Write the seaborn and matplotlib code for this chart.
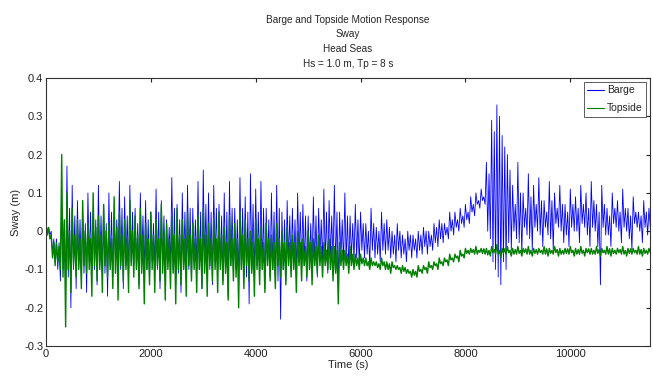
import numpy as np
import pandas as pd
import seaborn as sns
import matplotlib
matplotlib.use("Agg")
import matplotlib.pyplot as plt

# values, per 100 s: outer peak, inner trough,
# inner peak, outer trough (outer = spikes, inner = dense band)
step = 100
barge_hi = [
    0.02, 0.0, -0.02, 0.05, 0.17, 0.12, 0.08, 0.05, 0.1, 0.06,
    0.12, 0.07, 0.1, 0.05, 0.13, 0.09, 0.12, 0.06, 0.1, 0.08,
    0.05, 0.11, 0.08, 0.03, 0.14, 0.07, 0.1, 0.12, 0.06, 0.13,
    0.16, 0.1, 0.12, 0.07, 0.1, 0.13, 0.06, 0.14, 0.09, 0.15,
    0.11, 0.13, 0.06, 0.1, 0.12, 0.05, 0.08, 0.06, 0.1, 0.07,
    0.04, 0.09, 0.06, 0.11, 0.08, 0.12, 0.05, 0.1, 0.04, 0.07,
    0.05, 0.02, 0.06, 0.01, 0.05, 0.03, 0.0, 0.02, -0.01, 0.0,
    -0.01, 0.0, 0.01, 0.0, 0.02, 0.03, 0.02, 0.05, 0.05, 0.06,
    0.07, 0.09, 0.1, 0.11, 0.18, 0.29, 0.33, 0.25, 0.2, 0.12,
    0.18, 0.1, 0.15, 0.12, 0.14, 0.08, 0.13, 0.1, 0.12, 0.07,
    0.11, 0.09, 0.12, 0.1, 0.13, 0.07, 0.12, 0.06, 0.1, 0.08,
    0.11, 0.06, 0.09, 0.05, 0.08, 0.06,
]
barge_core_lo = [
    0.0, -0.06, -0.1, -0.1, -0.12, -0.1, -0.09, -0.11, -0.08, -0.1,
    -0.09, -0.11, -0.09, -0.08, -0.1, -0.09, -0.08, -0.1, -0.09, -0.1,
    -0.08, -0.1, -0.09, -0.08, -0.1, -0.11, -0.09, -0.1, -0.08, -0.1,
    -0.09, -0.1, -0.08, -0.09, -0.11, -0.09, -0.1, -0.09, -0.12, -0.1,
    -0.09, -0.1, -0.09, -0.1, -0.13, -0.1, -0.08, -0.09, -0.08, -0.09,
    -0.08, -0.09, -0.07, -0.08, -0.07, -0.09, -0.07, -0.08, -0.07, -0.07,
    -0.05, -0.06, -0.05, -0.06, -0.05, -0.05, -0.06, -0.05, -0.06, -0.05,
    -0.05, -0.05, -0.04, -0.04, -0.03, -0.02, -0.01, 0.0, 0.01, 0.02,
    0.03, 0.05, 0.07, 0.08, 0.0, -0.08, -0.12, -0.08, -0.03, 0.0,
    -0.03, 0.01, -0.02, 0.01, -0.01, 0.01, -0.02, 0.02, 0.0, -0.01,
    0.01, 0.0, 0.02, -0.01, 0.01, -0.04, 0.01, -0.01, 0.02, 0.0,
    0.01, -0.02, 0.02, 0.0, 0.01, 0.01,
]
barge_core_hi = [
    0.01, -0.02, -0.03, 0.02, 0.06, 0.04, 0.03, 0.02, 0.05, 0.03,
    0.04, 0.02, 0.05, 0.03, 0.06, 0.04, 0.05, 0.02, 0.04, 0.03,
    0.02, 0.05, 0.04, 0.01, 0.06, 0.03, 0.05, 0.06, 0.03, 0.05,
    0.07, 0.05, 0.06, 0.04, 0.05, 0.06, 0.03, 0.06, 0.05, 0.07,
    0.05, 0.06, 0.03, 0.05, 0.06, 0.03, 0.04, 0.03, 0.05, 0.04,
    0.02, 0.04, 0.03, 0.05, 0.04, 0.05, 0.03, 0.04, 0.02, 0.03,
    0.02, 0.0, 0.02, 0.0, 0.02, 0.01, -0.01, 0.0, -0.02, -0.01,
    -0.02, -0.01, 0.0, -0.01, 0.01, 0.02, 0.01, 0.03, 0.03, 0.04,
    0.05, 0.07, 0.08, 0.09, 0.15, 0.26, 0.3, 0.22, 0.16, 0.07,
    0.1, 0.06, 0.09, 0.07, 0.08, 0.05, 0.08, 0.06, 0.07, 0.05,
    0.07, 0.06, 0.07, 0.06, 0.08, 0.05, 0.07, 0.04, 0.06, 0.05,
    0.06, 0.04, 0.05, 0.04, 0.05, 0.04,
]
barge_lo = [
    -0.01, -0.08, -0.13, -0.15, -0.2, -0.15, -0.12, -0.16, -0.1, -0.14,
    -0.11, -0.17, -0.12, -0.1, -0.15, -0.12, -0.09, -0.14, -0.11, -0.13,
    -0.1, -0.15, -0.12, -0.09, -0.14, -0.16, -0.11, -0.13, -0.1, -0.15,
    -0.12, -0.14, -0.1, -0.13, -0.17, -0.11, -0.14, -0.12, -0.19, -0.13,
    -0.11, -0.15, -0.12, -0.14, -0.23, -0.13, -0.1, -0.12, -0.09, -0.13,
    -0.1, -0.12, -0.09, -0.11, -0.08, -0.15, -0.09, -0.1, -0.08, -0.09,
    -0.07, -0.09, -0.07, -0.08, -0.06, -0.07, -0.08, -0.07, -0.08, -0.07,
    -0.07, -0.06, -0.06, -0.05, -0.04, -0.03, -0.02, -0.01, 0.0, 0.01,
    0.02, 0.04, 0.06, 0.07, -0.02, -0.1, -0.14, -0.1, -0.05, -0.02,
    -0.06, -0.01, -0.05, 0.0, -0.04, -0.01, -0.05, 0.01, -0.03, -0.04,
    0.0, -0.03, 0.01, -0.04, 0.0, -0.14, -0.01, -0.04, 0.01, -0.03,
    0.0, -0.05, 0.01, -0.03, -0.01, 0.0,
]
topside_hi = [
    0.02, -0.01, -0.03, 0.2, 0.1, 0.06, 0.03, 0.08, 0.02, 0.1,
    0.04, 0.07, 0.02, 0.09, 0.05, 0.03, 0.08, 0.04, 0.06, 0.02,
    0.05, 0.03, 0.07, 0.02, 0.04, 0.06, 0.03, 0.05, 0.02, 0.04,
    0.06, 0.02, 0.03, 0.05, 0.01, 0.04, 0.02, 0.05, 0.03, 0.0,
    0.03, 0.01, 0.02, -0.01, 0.02, 0.0, 0.01, -0.01, 0.0, -0.02,
    0.0, -0.02, -0.01, -0.03, -0.02, -0.04, -0.03, -0.05, -0.04, -0.06,
    -0.06, -0.07, -0.07, -0.08, -0.07, -0.08, -0.08, -0.09, -0.09, -0.1,
    -0.1, -0.09, -0.09, -0.08, -0.08, -0.07, -0.07, -0.06, -0.06, -0.05,
    -0.045, -0.045, -0.04, -0.045, -0.045, -0.04, -0.035, -0.045, -0.04, -0.045,
    -0.04, -0.045, -0.04, -0.045, -0.045, -0.04, -0.045, -0.04, -0.045, -0.045,
    -0.04, -0.045, -0.04, -0.045, -0.045, -0.04, -0.045, -0.04, -0.045, -0.045,
    -0.04, -0.045, -0.045, -0.04, -0.045, -0.045,
]
topside_core_lo = [
    -0.01, -0.07, -0.08, -0.12, -0.1, -0.09, -0.1, -0.09, -0.1, -0.09,
    -0.1, -0.09, -0.1, -0.11, -0.09, -0.1, -0.09, -0.1, -0.11, -0.1,
    -0.1, -0.09, -0.11, -0.1, -0.11, -0.1, -0.1, -0.09, -0.1, -0.1,
    -0.11, -0.09, -0.1, -0.1, -0.11, -0.09, -0.12, -0.1, -0.09, -0.11,
    -0.1, -0.1, -0.09, -0.1, -0.09, -0.1, -0.09, -0.1, -0.09, -0.09,
    -0.1, -0.09, -0.09, -0.09, -0.1, -0.11, -0.09, -0.09, -0.09, -0.09,
    -0.085, -0.09, -0.09, -0.095, -0.09, -0.1, -0.095, -0.1, -0.105, -0.11,
    -0.115, -0.105, -0.1, -0.095, -0.09, -0.085, -0.08, -0.075, -0.07, -0.065,
    -0.058, -0.056, -0.06, -0.058, -0.062, -0.056, -0.06, -0.058, -0.056, -0.06,
    -0.058, -0.056, -0.06, -0.058, -0.056, -0.06, -0.058, -0.056, -0.06, -0.058,
    -0.056, -0.06, -0.058, -0.056, -0.06, -0.058, -0.056, -0.06, -0.058, -0.056,
    -0.06, -0.058, -0.056, -0.06, -0.058, -0.056,
]
topside_core_hi = [
    0.01, -0.03, -0.04, 0.03, 0.0, -0.01, -0.02, 0.0, -0.02, 0.01,
    -0.01, 0.0, -0.02, 0.01, -0.01, -0.02, 0.0, -0.01, -0.01, -0.02,
    -0.01, -0.02, 0.0, -0.02, -0.01, -0.01, -0.02, -0.01, -0.02, -0.02,
    -0.01, -0.02, -0.02, -0.01, -0.03, -0.02, -0.02, -0.01, -0.02, -0.03,
    -0.02, -0.03, -0.02, -0.03, -0.02, -0.03, -0.03, -0.03, -0.03, -0.04,
    -0.03, -0.04, -0.04, -0.05, -0.04, -0.05, -0.05, -0.06, -0.06, -0.07,
    -0.07, -0.08, -0.08, -0.085, -0.08, -0.085, -0.09, -0.095, -0.095, -0.105,
    -0.105, -0.1, -0.095, -0.09, -0.085, -0.08, -0.075, -0.07, -0.065, -0.06,
    -0.05, -0.048, -0.05, -0.046, -0.05, -0.048, -0.05, -0.046, -0.05, -0.048,
    -0.05, -0.046, -0.05, -0.048, -0.05, -0.046, -0.05, -0.048, -0.05, -0.046,
    -0.05, -0.048, -0.05, -0.046, -0.05, -0.048, -0.05, -0.046, -0.05, -0.048,
    -0.05, -0.046, -0.05, -0.048, -0.05, -0.046,
]
topside_lo = [
    -0.02, -0.09, -0.1, -0.25, -0.16, -0.12, -0.15, -0.11, -0.17, -0.13,
    -0.16, -0.12, -0.15, -0.18, -0.13, -0.16, -0.12, -0.15, -0.19, -0.14,
    -0.16, -0.13, -0.18, -0.15, -0.19, -0.14, -0.17, -0.13, -0.16, -0.15,
    -0.17, -0.13, -0.16, -0.14, -0.18, -0.13, -0.2, -0.15, -0.13, -0.17,
    -0.14, -0.16, -0.13, -0.15, -0.12, -0.14, -0.12, -0.16, -0.13, -0.12,
    -0.14, -0.11, -0.12, -0.1, -0.13, -0.19, -0.1, -0.11, -0.1, -0.1,
    -0.09, -0.1, -0.09, -0.1, -0.1, -0.11, -0.1, -0.11, -0.11, -0.12,
    -0.12, -0.11, -0.11, -0.1, -0.1, -0.09, -0.09, -0.08, -0.08, -0.07,
    -0.06, -0.06, -0.055, -0.06, -0.065, -0.06, -0.07, -0.06, -0.065, -0.06,
    -0.065, -0.06, -0.065, -0.06, -0.06, -0.065, -0.06, -0.065, -0.06, -0.06,
    -0.065, -0.06, -0.065, -0.06, -0.06, -0.065, -0.06, -0.065, -0.06, -0.06,
    -0.065, -0.06, -0.06, -0.065, -0.06, -0.06,
]
series_names = ["Barge", "Topside"]
xtick_vals = [0, 2000, 4000, 6000, 8000, 10000]
ytick_vals = [-0.3, -0.2, -0.1, 0, 0.1, 0.2, 0.3, 0.4]
ytick_labels = ["-0.3", "-0.2", "-0.1", "0", "0.1", "0.2", "0.3", "0.4"]
title_lines = ["Barge and Topside Motion Response", "Sway", "Head Seas",
               "Hs = 1.0 m, Tp = 8 s"]


def interleave(*cols):
    # the four readings of each 100 s block, a quarter step apart
    n = len(cols)
    t = np.arange(len(cols[0])) * step
    times = np.column_stack([t + k * step / n for k in range(n)]).ravel()
    vals = np.column_stack(cols).ravel()
    return times, vals


frames = []
for name, cols in [("Barge", (barge_hi, barge_core_lo, barge_core_hi, barge_lo)),
                   ("Topside", (topside_hi, topside_core_lo, topside_core_hi, topside_lo))]:
    tt, vv = interleave(*cols)
    frames.append(pd.DataFrame({"time": tt, "sway": vv, "series": name}))
df = pd.concat(frames, ignore_index=True)

sns.set_style("white")
plt.rcParams["font.family"] = ["Liberation Sans", "DejaVu Sans"]

fig = plt.figure(figsize=(6.53, 3.79), dpi=100)
ax = fig.add_axes([0.0704, 0.087, 0.925, 0.707])

sns.lineplot(data=df[df.series == "Barge"], x="time", y="sway", color="#0000ff",
             estimator=None, sort=False, linewidth=0.6, label="Barge", ax=ax)
sns.lineplot(data=df[df.series == "Topside"], x="time", y="sway", color="#007f00",
             estimator=None, sort=False, linewidth=1.0, label="Topside", ax=ax)

ax.set_xlim(0, 11520)
ax.set_ylim(-0.3, 0.4)
ax.set_xticks(xtick_vals)
ax.set_xticklabels([str(v) for v in xtick_vals])
ax.set_yticks(ytick_vals)
ax.set_yticklabels(ytick_labels)
ax.tick_params(direction="in", top=True, right=True, length=3, labelsize=8,
               colors="#222222", pad=2)
for s in ax.spines.values():
    s.set_color("#333333")
    s.set_linewidth(0.8)

ax.set_xlabel("Time (s)", fontsize=8, labelpad=1)
ax.set_ylabel("Sway (m)", fontsize=8, labelpad=2)
ax.set_title("\n".join(title_lines), fontsize=7.2, linespacing=1.6, pad=8)

leg = ax.legend(loc="upper right", fontsize=7.5, frameon=True, fancybox=False,
                edgecolor="#333333", handlelength=1.6, borderpad=0.35,
                labelspacing=0.75, handletextpad=0.3, borderaxespad=0.35)
leg.get_frame().set_linewidth(0.7)
for line in leg.get_lines():
    line.set_linewidth(0.8)

fig.savefig("out.png", dpi=100)
